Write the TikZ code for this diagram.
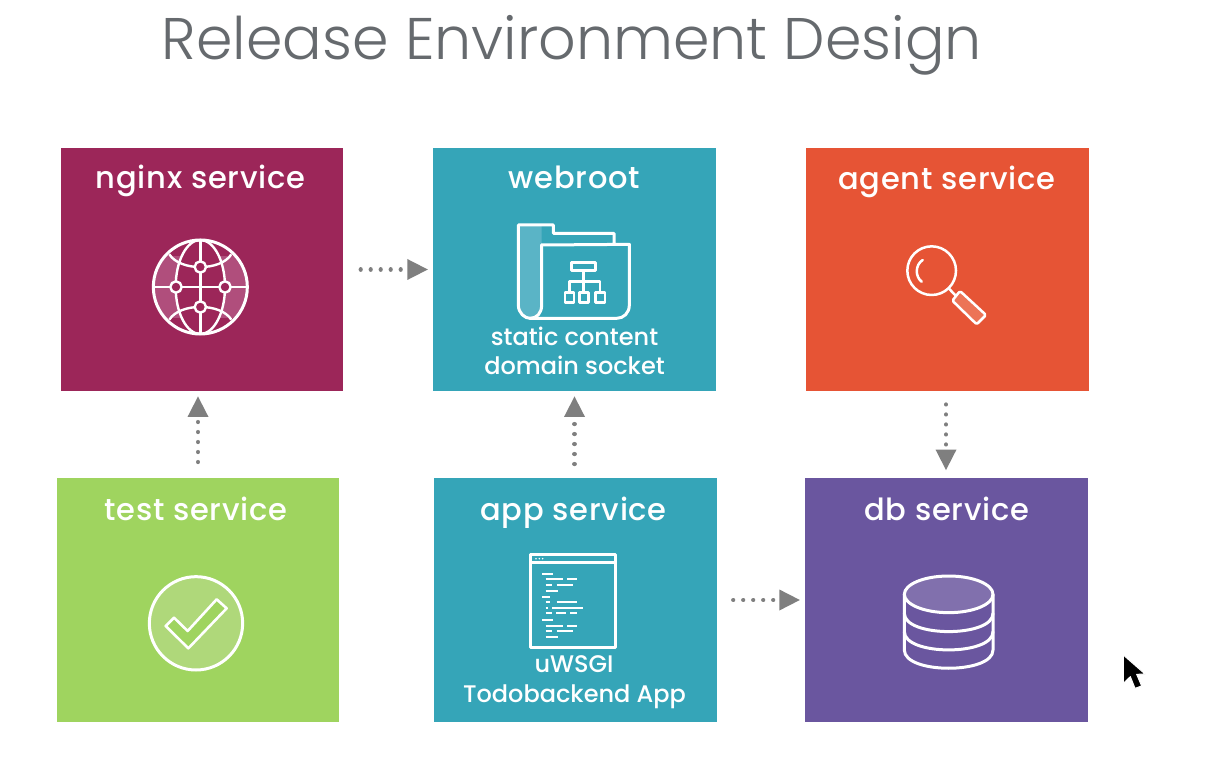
\documentclass[tikz,border=0pt]{standalone}
\usepackage{fontspec}
\usetikzlibrary{arrows.meta,calc}
\newfontfamily\titlefont{Poppins Light}
\newfontfamily\labelfont[LetterSpace=2.5]{Poppins Medium}
\newfontfamily\subfont{Poppins Medium}
\definecolor{cnginx}{HTML}{9C2659}
\definecolor{cnginxl}{HTML}{B04E7C}
\definecolor{cteal}{HTML}{35A5B8}
\definecolor{cteall}{HTML}{5AB4C6}
\definecolor{cagent}{HTML}{E65435}
\definecolor{cagentl}{HTML}{EC7457}
\definecolor{ctest}{HTML}{9FD45F}
\definecolor{ctestl}{HTML}{AFD87A}
\definecolor{cdb}{HTML}{6A569F}
\definecolor{cdbl}{HTML}{8170AD}
\definecolor{cgray}{HTML}{7F7F7F}
\definecolor{ctitle}{HTML}{666A6E}
\tikzset{
  box/.style={draw=none,inner sep=0pt,minimum width=#1,minimum height=243.5pt},
  head/.style={anchor=base,text=white,inner sep=0pt,font=\labelfont\fontsize{30.5}{32}\selectfont},
  sub/.style={anchor=base,text=white,inner sep=0pt,font=\subfont\fontsize{24}{26}\selectfont},
  flow/.style={draw=cgray,line width=4.2pt,dash pattern=on 0.01pt off 9.99pt,line cap=round,
    -{Triangle[length=20.5pt,width=21pt,fill=cgray,line width=0pt]}},
  icon/.style={draw=white,line width=3pt,line join=round,line cap=round},
  thin icon/.style={draw=white,line width=2.4pt,line join=round},
  zoomed/.style={shift={(#1)},scale=1/3}
}
\begin{document}
\begin{tikzpicture}[x=1pt,y=-1pt]
\useasboundingbox (0,0) rectangle (1207,767);
\fill[white] (0,0) rectangle (1207,767);
\node[anchor=base,text=ctitle,inner sep=0pt,font=\titlefont\fontsize{58.7}{60}\selectfont] (title) at (572,60) {Release Environment Design};
% boxes
\node[box=282pt,fill=cnginx] (nginx) at (202,269.5) {};
\node[box=283pt,fill=cteal] (webroot) at (574.5,269.5) {};
\node[box=283pt,fill=cagent] (agent) at (947.5,269.5) {};
\node[box=282pt,fill=ctest] (test) at (198,600) {};
\node[box=283pt,fill=cteal] (app) at (575.5,600) {};
\node[box=282.5pt,fill=cdb] (db) at (946.3,600) {};
% labels
\node[head] (l1) at (200.5,189) {nginx service};
\node[head] (l2) at (574.5,189) {webroot};
\node[head] (l3) at (947,190) {agent service};
\node[head] (l4) at (196,520) {test service};
\node[head] (l5) at (573.5,520) {app service};
\node[head] (l6) at (947,520) {db service};
\node[sub] (s1) at (574.5,345) {static content};
\node[sub] (s2) at (574.5,374) {domain socket};
\node[sub] (s3) at (574,672) {uWSGI};
\node[sub] (s4) at (574.5,702) {Todobackend App};
% connectors
\draw[flow,shorten <=17.5pt,shorten >=5pt] (nginx.east) -- (webroot.west |- nginx.east);
\draw[flow,shorten <=16pt,shorten >=5pt] (test.north) -- (test.north |- nginx.south);
\draw[flow,shorten <=14pt,shorten >=5pt] (webroot.south |- app.north) -- (webroot.south);
\draw[flow,shorten <=13pt,shorten >=8pt] ([xshift=-1.5pt]agent.south) -- ([xshift=-1.5pt]agent.south |- db.north);
\draw[flow,shorten <=16pt,shorten >=5pt] (app.east) -- (db.west |- app.east);
% globe
\begin{scope}[zoomed={50,140}]
  \begin{scope}
    \clip (258,350) rectangle (644,532);
    \fill[cnginxl,even odd rule] (451,441) circle[radius=141] (451,441) ellipse[x radius=74,y radius=141];
  \end{scope}
  \draw[icon] (451,441) circle[radius=141];
  \draw[thin icon] (451,441) ellipse[x radius=74,y radius=141];
  \draw[thin icon] (451,300) -- (451,582) (310,441) -- (592,441);
  \draw[thin icon] (358,343) .. controls (390,394) and (512,394) .. (544,343);
  \draw[thin icon] (358,539) .. controls (390,488) and (512,488) .. (544,539);
  \foreach \p in {(451,381),(378,441),(525,441),(451,501)}
    \draw[thin icon,fill=cnginx] \p circle[radius=17];
\end{scope}
% folder
\begin{scope}[zoomed={430,140}]
  \fill[cteall] (265,255) -- (265,495) .. controls (265,520) and (285,535) .. (300,535) .. controls (320,535) and (335,520) .. (335,495) -- (335,255) -- cycle;
  \draw[icon] (335,315) -- (598,313) -- (598,495) .. controls (598,520) and (580,535) .. (560,535) -- (300,535) .. controls (285,535) and (265,520) .. (265,495) -- (265,255) -- (370,255) -- (370,280) -- (552,280) -- (552,313);
  \draw[icon] (335,315) -- (335,495) .. controls (335,520) and (320,535) .. (300,535);
  \draw[icon] (425,367) rectangle (497,392);
  \draw[thin icon] (461,392) -- (461,458) (418,458) -- (418,425) -- (510,425) -- (510,458);
  \draw[thin icon] (405,458) rectangle (432,487) (449,458) rectangle (475,487) (497,458) rectangle (525,487);
\end{scope}
% window
\begin{scope}[zoomed={430,470}]
  \draw[icon] (302,252) rectangle (555,533);
  \draw[thin icon] (302,278) -- (555,278);
  \foreach \q in {318,328,338} \fill[white] (\q,266) circle[radius=2.6];
  \foreach \a/\b/\c in {337/370/312,347/400/328,412/440/328,347/365/345,380/430/345,347/385/362,
    337/360/380,347/360/397,380/440/397,347/355/413,367/460/413,347/365/430,378/408/430,420/440/430,
    337/370/450,347/400/467,412/440/467,347/365/483,380/430/483,347/385/500}
    \draw[white,line width=2.2pt] (\a,\c) -- (\b,\c);
\end{scope}
% magnifier
\begin{scope}[zoomed={800,140}]
  \draw[icon,line width=2.5pt] (395,392) circle[radius=73];
  \draw[icon,line width=2.5pt] (368,360) .. controls (345,375) and (345,410) .. (365,425);
  \draw[icon,line width=2.5pt] (448,447) -- (470,470);
  \draw[icon,line width=2.5pt,fill=cagentl,rounded corners=1.5pt] (480,453) -- (558,525) -- (530,553) -- (457,482) -- cycle;
\end{scope}
% database
\begin{scope}[zoomed={800,470}]
  \draw[icon,fill=cdbl] (446,373) ellipse[x radius=133,y radius=55];
  \draw[icon] (313,373) -- (313,540) .. controls (313,613) and (579,613) .. (579,540) -- (579,373);
  \draw[icon] (313,430) .. controls (313,503) and (579,503) .. (579,430);
  \draw[icon] (313,485) .. controls (313,558) and (579,558) .. (579,485);
\end{scope}
% check
\begin{scope}[zoomed={50,470}]
  \draw[icon,fill=ctestl] (438,460) circle[radius=140];
  \draw[thin icon,line width=2.6pt,fill=ctest] (347,468) -- (372,443) -- (413,483) -- (500,388) -- (530,415) -- (415,535) -- cycle;
\end{scope}
% cursor
\begin{scope}[zoomed={800,470}]
  \draw[draw=white,line width=1pt,fill=black,line join=round] (970,555) -- (970,640) -- (991,620) -- (1005,655) -- (1025,648) -- (1010,613) -- (1035,612) -- cycle;
\end{scope}
\end{tikzpicture}
\end{document}
